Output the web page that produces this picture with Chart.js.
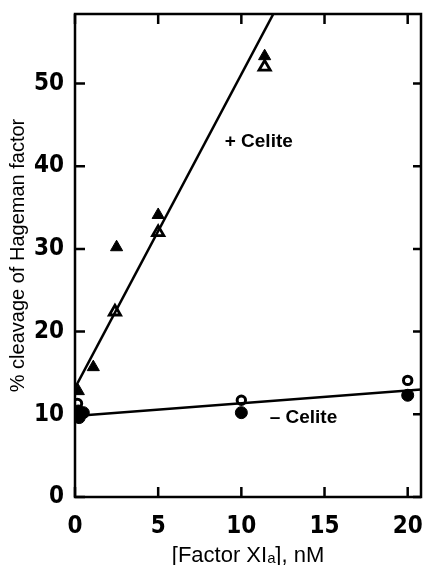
<!DOCTYPE html>
<html>
<head>
<meta charset="utf-8">
<script src="https://cdn.jsdelivr.net/npm/chart.js@4/dist/chart.umd.min.js"></script>
<style>
  html, body { margin: 0; padding: 0; background: #fff; }
  #wrap { width: 425px; height: 565px; }
</style>
</head>
<body>
<div id="wrap"><canvas id="chart"></canvas></div>
<script>
// Data
const xTicks = [0, 5, 10, 15, 20];
const yTicks = [0, 10, 20, 30, 40, 50];

// + Celite
const plusFilled = [
  { x: 0.2, y: 12.8 }, { x: 1.1, y: 15.7 }, { x: 2.5, y: 30.2 },
  { x: 5.0, y: 34.1 }, { x: 11.4, y: 53.3 }
];
const plusOpen = [
  { x: 2.4, y: 22.4 }, { x: 5.0, y: 32.0 }, { x: 11.4, y: 52.0 }
];
const plusLine = [{ x: 0, y: 13.2 }, { x: 12.0, y: 58.7 }];

// - Celite
const minusFilled = [
  { x: 0.2, y: 10.4 }, { x: 0.5, y: 10.2 }, { x: 0.25, y: 9.6 },
  { x: 10.0, y: 10.2 }, { x: 20.0, y: 12.3 }
];
const minusOpen = [
  { x: 0.15, y: 11.3 }, { x: 10.0, y: 11.7 }, { x: 20.0, y: 14.1 }
];
const minusLine = [{ x: 0, y: 9.8 }, { x: 20.8, y: 13.0 }];

// in-plot labels
const notes = [
  { text: "+ Celite", x: 9.0, y: 42.3 },
  { text: "\u2013 Celite", x: 11.7, y: 8.9 }
];

const INK = "#000";
const tickFont = { family: "'DejaVu Sans Condensed', 'Liberation Sans Narrow', sans-serif", weight: "bold", size: 24 };

// frame + inward ticks + notes
const framePlugin = {
  id: "frame",
  afterDraw(chart) {
    const { ctx, chartArea: a, scales } = chart;
    const xs = scales.x, ys = scales.y;
    ctx.save();
    ctx.strokeStyle = INK;
    ctx.lineWidth = 2.5;
    ctx.strokeRect(a.left, a.top, a.right - a.left, a.bottom - a.top);
    const tl = 10;
    ctx.beginPath();
    xTicks.forEach(v => {
      const px = xs.getPixelForValue(v);
      ctx.moveTo(px, a.bottom); ctx.lineTo(px, a.bottom - tl);
      ctx.moveTo(px, a.top); ctx.lineTo(px, a.top + tl);
    });
    yTicks.forEach(v => {
      const py = ys.getPixelForValue(v);
      ctx.moveTo(a.left, py); ctx.lineTo(a.left + tl, py);
      ctx.moveTo(a.right, py); ctx.lineTo(a.right - 8, py);
    });
    ctx.stroke();

    ctx.fillStyle = INK;
    ctx.font = "bold 19px 'Liberation Sans', Arial, sans-serif";
    ctx.textBaseline = "alphabetic";
    ctx.textAlign = "left";
    notes.forEach(n => {
      ctx.fillText(n.text, xs.getPixelForValue(n.x), ys.getPixelForValue(n.y));
    });
    ctx.restore();
  }
};

function noPad(s) {
  s.paddingLeft = 0;
  s.paddingRight = 0;
  s.paddingTop = 0;
  s.paddingBottom = 0;
}

new Chart(document.getElementById("chart"), {
  type: "scatter",
  data: {
    datasets: [
      { data: plusLine, showLine: true, borderColor: INK, borderWidth: 2.5, pointRadius: 0 },
      { data: minusLine, showLine: true, borderColor: INK, borderWidth: 2.5, pointRadius: 0 },
      { data: plusFilled, pointStyle: "triangle", pointRadius: 7, backgroundColor: INK, borderColor: INK, borderWidth: 1 },
      { data: plusOpen, pointStyle: "triangle", pointRadius: 6.5, backgroundColor: "#fff", borderColor: INK, borderWidth: 2.8 },
      { data: minusFilled, pointStyle: "circle", pointRadius: 6, backgroundColor: INK, borderColor: INK, borderWidth: 1 },
      { data: minusOpen, pointStyle: "circle", pointRadius: 4.2, backgroundColor: "#fff", borderColor: INK, borderWidth: 3 }
    ]
  },
  options: {
    responsive: true,
    maintainAspectRatio: false,
    animation: false,
    layout: { autoPadding: false, padding: { top: 14, right: 4, left: 0, bottom: 0 } },
    plugins: { legend: { display: false }, tooltip: { enabled: false } },
    scales: {
      x: {
        type: "linear",
        min: 0,
        max: 20.8,
        afterBuildTicks: s => { s.ticks = xTicks.map(v => ({ value: v })); },
        afterFit: s => { s.height = 68; noPad(s); },
        grid: { display: false, drawTicks: false },
        border: { display: false },
        ticks: { color: INK, padding: 15, font: tickFont },
        title: {
          display: true,
          text: "[Factor XI\u2090], nM",
          color: INK,
          padding: { top: 0, bottom: -4 },
          font: { family: "'Liberation Sans', Arial, sans-serif", size: 22 }
        }
      },
      y: {
        type: "linear",
        min: 0,
        max: 58.4,
        afterBuildTicks: s => { s.ticks = yTicks.map(v => ({ value: v })); },
        afterFit: s => { s.width = 75; noPad(s); },
        grid: { display: false, drawTicks: false },
        border: { display: false },
        ticks: { color: INK, padding: 11, font: tickFont },
        title: {
          display: true,
          text: "% cleavage of Hageman factor",
          color: INK,
          padding: { top: 6, bottom: 0 },
          font: { family: "'Liberation Sans', Arial, sans-serif", size: 20 }
        }
      }
    }
  },
  plugins: [framePlugin]
});
</script>
</body>
</html>
